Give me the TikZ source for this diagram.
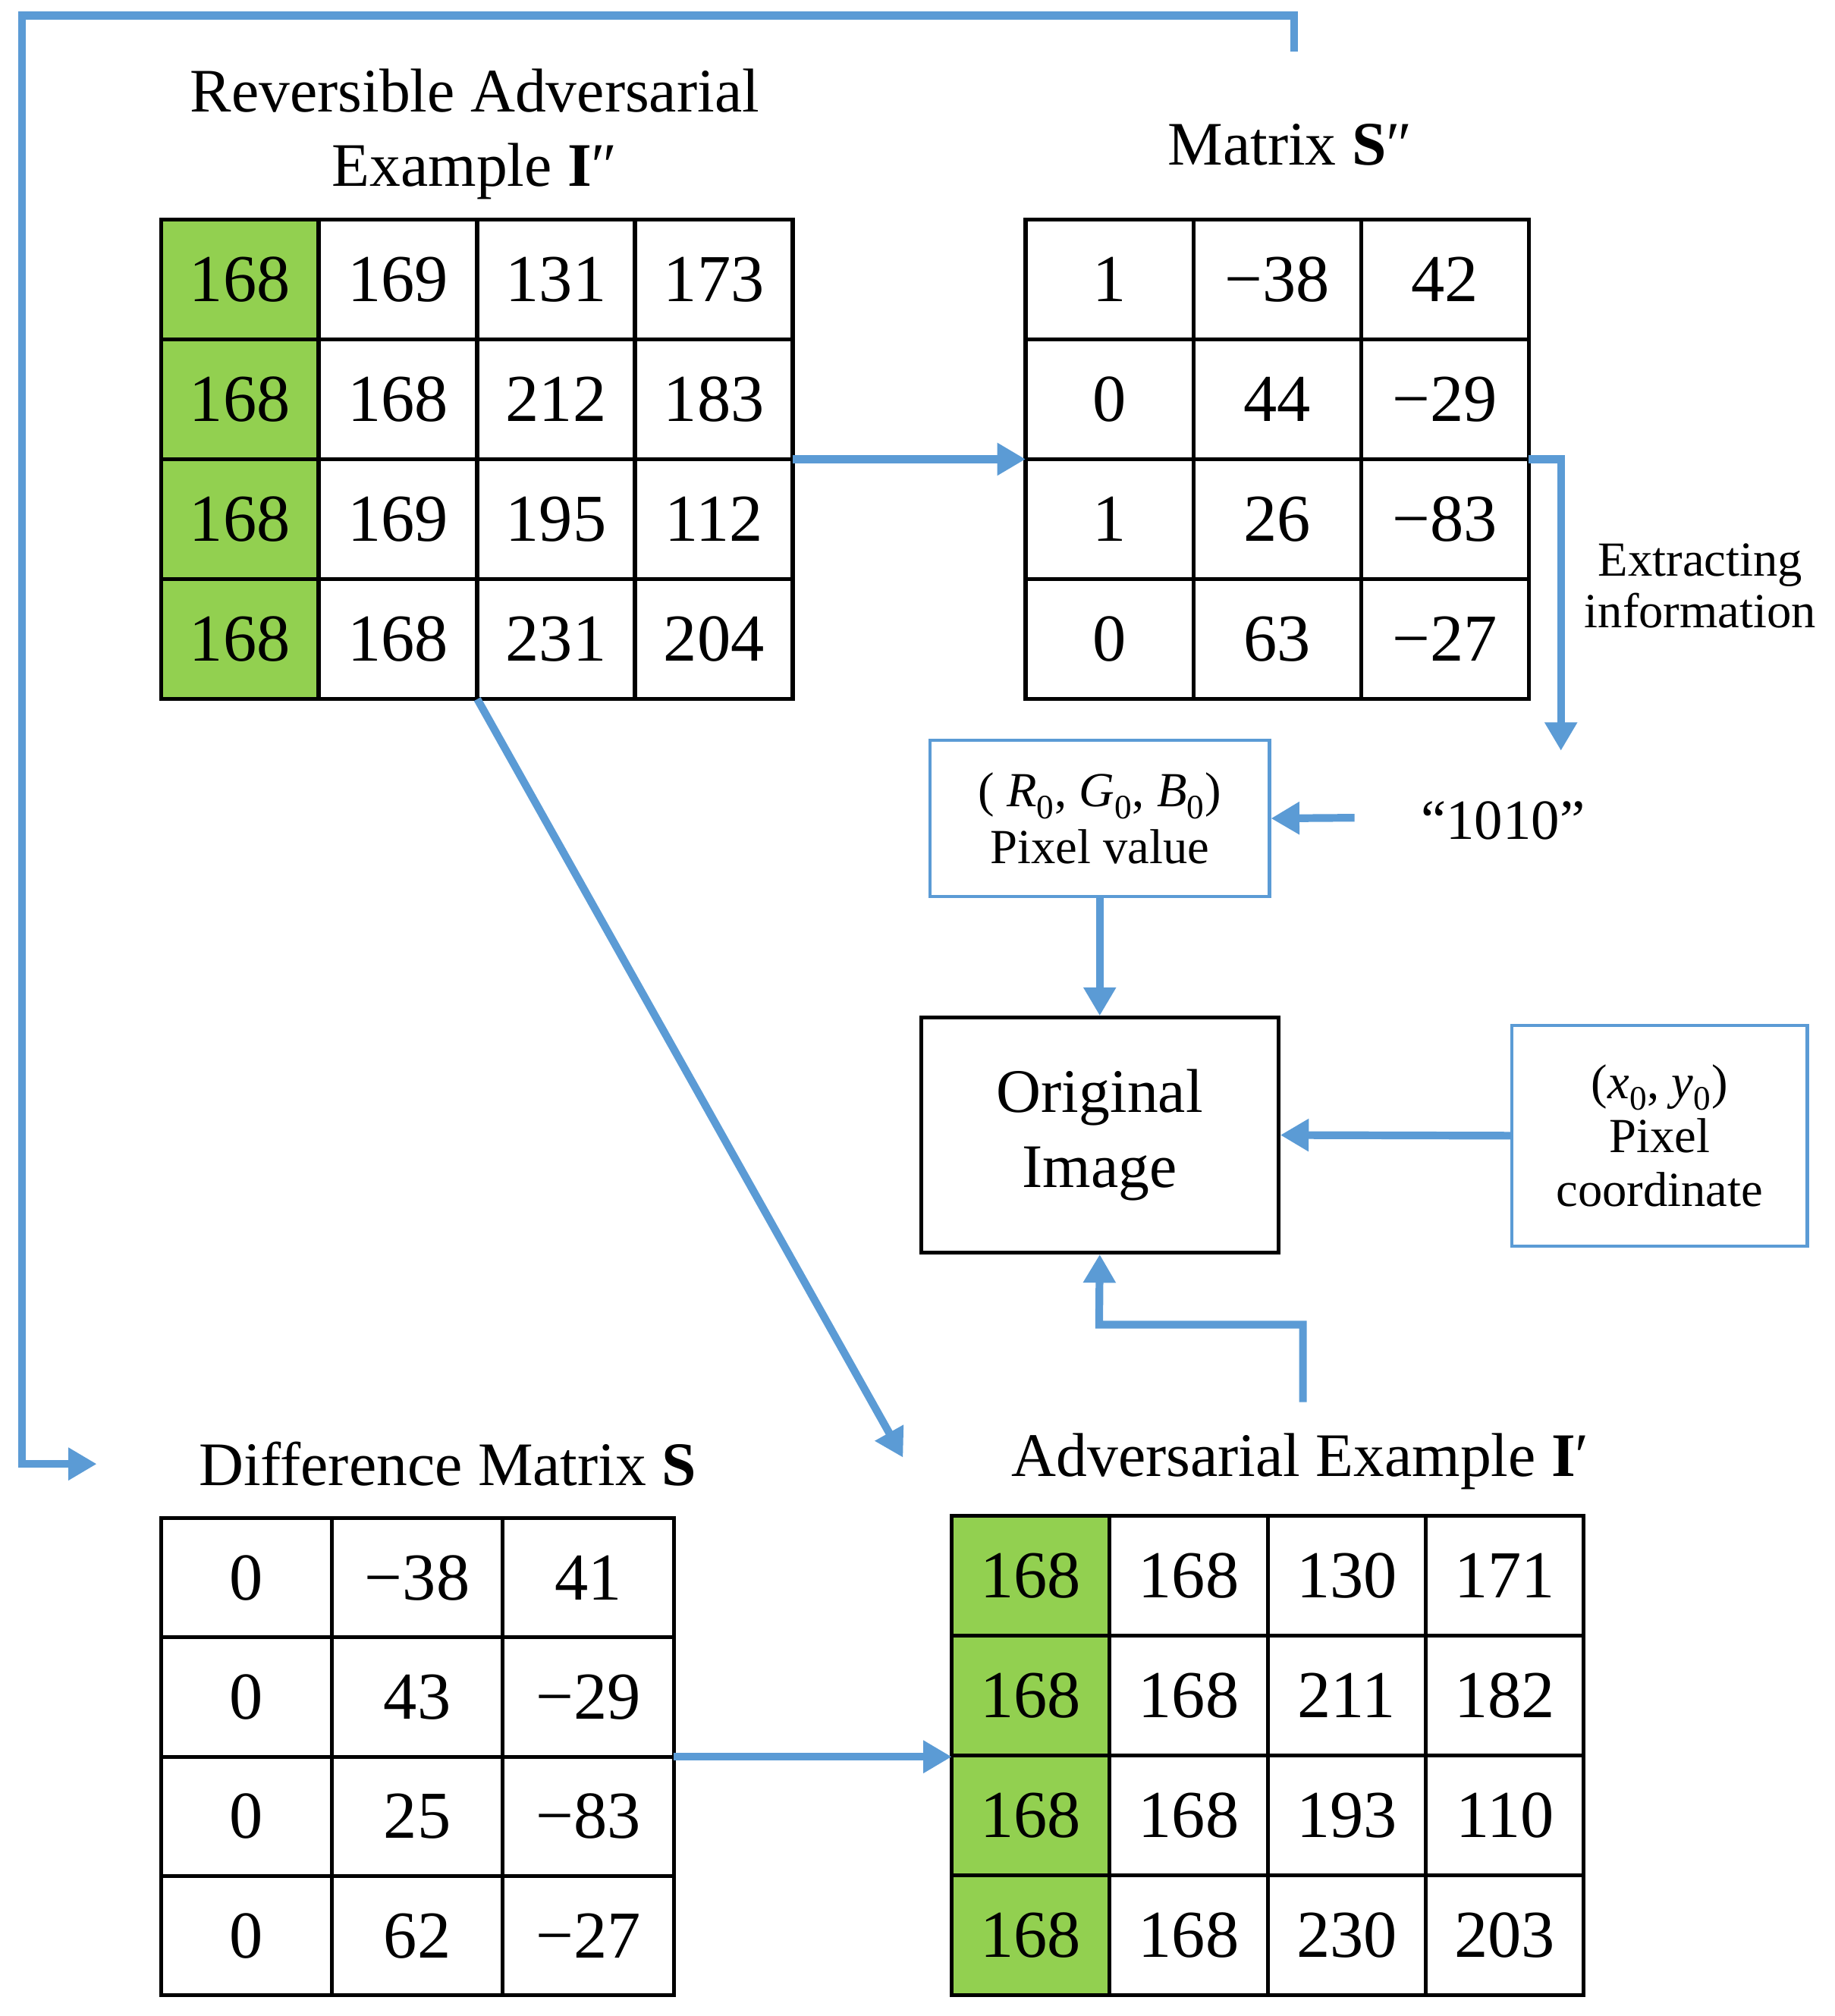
\documentclass[tikz,border=0pt]{standalone}
\usepackage{fontspec}
\setmainfont{Liberation Serif}
\usetikzlibrary{arrows.meta}
\definecolor{ablue}{RGB}{91,155,213}
\definecolor{agreen}{RGB}{146,208,80}
\newcommand{\vsub}[2]{\textit{#1}\textsubscript{0}}
\begin{document}
\begin{tikzpicture}[x=1pt,y=-1pt,
  conn/.style={ablue,line width=6pt,-{Triangle[length=22pt,width=24pt]}},
  cell/.style={draw=black,line width=3pt,inner sep=0pt,outer sep=0pt,font=\fontsize{52}{56}\selectfont},
  lbl/.style={font=\fontsize{48}{58}\selectfont,align=center},
  small/.style={font=\fontsize{38}{48}\selectfont,align=center}]
\useasboundingbox (0,0) rectangle (1422,1563);
% Matrix I''
\foreach \r/\a/\b/\c/\d [count=\i] in {0/168/169/131/173,1/168/168/212/183,2/168/169/195/112,3/168/168/231/204}{
  \pgfmathsetmacro\ya{170+93*\r}
  \node[cell,fill=agreen,minimum width=122pt,minimum height=93pt] (A\i1) at (186,\ya+46.5) {\a};
  \node[cell,minimum width=122pt,minimum height=93pt] (A\i2) at (308.5,\ya+46.5) {\b};
  \node[cell,minimum width=122pt,minimum height=93pt] (A\i3) at (431,\ya+46.5) {\c};
  \node[cell,minimum width=122pt,minimum height=93pt] (A\i4) at (553.5,\ya+46.5) {\d};
}
\node[lbl] (tA) at (368,104) {Reversible Adversarial\\Example \textbf{I}″};
% Matrix S''
\foreach \r/\a/\b/\c [count=\i] in {0/1/−38/42,1/0/44/−29,2/1/26/−83,3/0/63/−27}{
  \pgfmathsetmacro\ya{170+93*\r}
  \node[cell,minimum width=130pt,minimum height=93pt] (B\i1) at (860,\ya+46.5) {\a};
  \node[cell,minimum width=130pt,minimum height=93pt] (B\i2) at (990,\ya+46.5) {\b};
  \node[cell,minimum width=130pt,minimum height=93pt] (B\i3) at (1120,\ya+46.5) {\c};
}
\node[lbl] (tB) at (1000,112) {Matrix \textbf{S}″};
% Difference matrix S
\foreach \r/\a/\b/\c [count=\i] in {0/0/−38/41,1/0/43/−29,2/0/25/−83,3/0/62/−27}{
  \pgfmathsetmacro\ya{1177+92.5*\r}
  \node[cell,minimum width=132.5pt,minimum height=92.5pt] (C\i1) at (191,\ya+46.25) {\a};
  \node[cell,minimum width=132.5pt,minimum height=92.5pt] (C\i2) at (323.5,\ya+46.25) {\b};
  \node[cell,minimum width=132.5pt,minimum height=92.5pt] (C\i3) at (456,\ya+46.25) {\c};
}
\node[lbl] (tC) at (347,1135) {Difference Matrix \textbf{S}};
% Adversarial example I'
\foreach \r/\a/\b/\c/\d [count=\i] in {0/168/168/130/171,1/168/168/211/182,2/168/168/193/110,3/168/168/230/203}{
  \pgfmathsetmacro\ya{1175+93*\r}
  \node[cell,fill=agreen,minimum width=122.5pt,minimum height=93pt] (D\i1) at (799,\ya+46.5) {\a};
  \node[cell,minimum width=122.5pt,minimum height=93pt] (D\i2) at (921.5,\ya+46.5) {\b};
  \node[cell,minimum width=122.5pt,minimum height=93pt] (D\i3) at (1044,\ya+46.5) {\c};
  \node[cell,minimum width=122.5pt,minimum height=93pt] (D\i4) at (1166.5,\ya+46.5) {\d};
}
\node[lbl] (tD) at (1008,1133) {Adversarial Example \textbf{I}′};
% boxes
\node[draw=ablue,line width=2.5pt,minimum width=263pt,minimum height=121pt,small,inner sep=0pt] (pv) at (852.5,634.5) {( \vsub{R}{}, \vsub{G}{}, \vsub{B}{})\\[-4pt]Pixel value};
\node[draw=black,line width=3pt,minimum width=277pt,minimum height=182pt,lbl,inner sep=0pt] (oi) at (852.5,880) {Original\\Image};
\node[draw=ablue,line width=2.5pt,minimum width=229pt,minimum height=171pt,small,inner sep=0pt] (pc) at (1286.5,880.5) {(\vsub{x}{}, \vsub{y}{})\\[-6pt]Pixel\\[-6pt]coordinate};
\node[small,font=\fontsize{44}{50}\selectfont] (s1010) at (1165,636) {“1010”};
\node[small] (ext) at (1318,454) {Extracting\\[-8pt]information};
\coordinate (topL) at (1003,40);
\coordinate (diffIn) at (75,1135);
\coordinate (adIn) at (700,1130);
\coordinate (down) at (1210,582);
\coordinate (from1010) at (1050,634);
\coordinate (upStart) at (1010,1087);
% connectors
\draw[conn] (topL) -- (1003,12) -- (17,12) -- (17,1135) -- (diffIn);
\draw[conn] (A24.south east) -- (A24.south east -| B31.west);
\draw[conn] (B23.south east) -- (1210,356) -- (down);
\draw[conn] (from1010) -- (pv.east);
\draw[conn] (pv.south) -- (oi.north);
\draw[conn] (pc.west) -- (oi.east);
\draw[conn] (upStart) -- (1010,1027) -- (852,1027) -- (oi.south);
\draw[conn] (A43.south west) -- (adIn);
\draw[conn] (C23.south east) -- (C23.south east -| D31.west);
\end{tikzpicture}
\end{document}
